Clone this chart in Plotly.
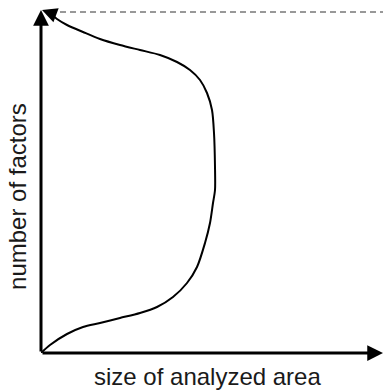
import plotly.graph_objects as go

# schematic curve (x = size of area, y = number of factors)
area = [0, 9, 26, 42, 59, 79, 99, 116, 132, 146, 156, 164, 169, 172, 174,
        174, 173, 171, 166, 159, 149, 136, 119, 99, 79, 59, 42, 26, 16, 9]
factors = [0, 8, 19, 26, 30, 35, 40, 46, 56, 70, 86, 110, 130, 150, 163,
           186, 220, 243, 260, 273, 283, 291, 298, 303, 308, 314, 321, 328, 334, 340]
x_max = 342
y_max = 343
limit = 341          # dashed upper limit
x_title = 'size of analyzed area'
y_title = 'number of factors'

fig = go.Figure()
fig.add_trace(go.Scatter(x=area, y=factors, mode='lines',
                         line=dict(color='black', width=2, shape='spline', smoothing=0.8),
                         hoverinfo='skip'))

# dashed upper limit
fig.add_shape(type='line', x0=9, x1=x_max, y0=limit, y1=limit,
              line=dict(color='#333333', width=1, dash='6px,4px'))

arrow = dict(text='', showarrow=True, axref='x', ayref='y', arrowhead=2,
             arrowcolor='black')
# axes with arrowheads
fig.add_annotation(x=0, y=y_max, ax=0, ay=0, arrowwidth=3, arrowsize=1.05, **arrow)
fig.add_annotation(x=x_max, y=0, ax=0, ay=0, arrowwidth=3, arrowsize=1.05, **arrow)
# arrowhead at the end of the curve
fig.add_annotation(x=1, y=y_max, ax=area[-1], ay=factors[-1], arrowwidth=2,
                   arrowsize=1.5, **arrow)

font = dict(family='Liberation Sans, Arial, sans-serif', size=24, color='#1a1a1a')
fig.add_annotation(text=x_title, xref='paper', yref='paper', x=0.488, y=0,
                   yshift=-23, showarrow=False, font=font,
                   xanchor='center', yanchor='middle')
fig.add_annotation(text=y_title, xref='paper', yref='paper', x=0, y=0.455,
                   xshift=-23, showarrow=False, font=font, textangle=-90,
                   xanchor='center', yanchor='middle')

fig.update_xaxes(range=[0, x_max], visible=False, fixedrange=True)
fig.update_yaxes(range=[0, y_max], visible=False, fixedrange=True)
fig.update_layout(width=383, height=391, showlegend=False,
                  margin=dict(l=41, r=0, t=10, b=38),
                  plot_bgcolor='white', paper_bgcolor='white')

fig.write_html('out.html', config={'displayModeBar': False},
               post_script="document.body.style.margin='0';")
